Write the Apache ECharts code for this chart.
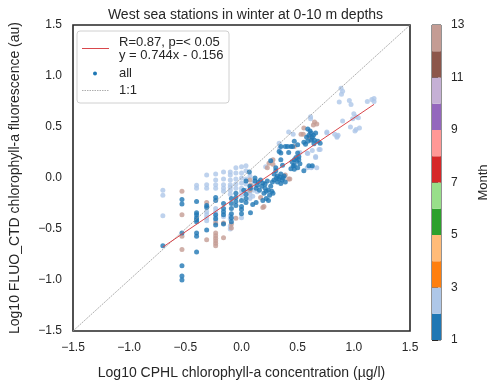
<!DOCTYPE html>
<html><head><meta charset="utf-8">
<script src="https://cdn.jsdelivr.net/npm/echarts/dist/echarts.min.js"></script>
<style>html,body{margin:0;padding:0;background:#fff}#c{width:491px;height:385px}</style>
</head><body><div id="c"></div>
<script>
// ---- data ----
const janPoints = [
[-0.70,-0.665],
[-0.53,-0.21],[-0.53,-0.255],[-0.53,-0.54],[-0.53,-0.86],[-0.53,-0.96],[-0.53,-1.0],
[-0.40,-0.23],[-0.40,-0.34],[-0.40,-0.36],[-0.40,-0.39],[-0.40,-0.41],[-0.40,-0.43],[-0.40,-0.54],[-0.40,-0.57],[-0.40,-0.725],
[-0.31,-0.27],[-0.31,-0.29],[-0.31,-0.51],
[-0.23,-0.19],[-0.23,-0.22],[-0.23,-0.36],[-0.23,-0.40],[-0.23,-0.46],
[-0.16,-0.25],[-0.16,-0.30],[-0.16,-0.33],[-0.16,-0.36],[-0.16,-0.45],
[-0.09,-0.20],[-0.09,-0.25],[-0.09,-0.30],[-0.09,-0.35],[-0.09,-0.39],[-0.09,-0.43],
[-0.05,-0.15],[-0.05,-0.19],[-0.05,-0.23],[-0.05,-0.27],
[0.0,-0.22],[0.0,-0.28],[0.0,-0.31],[0.0,-0.35],[0.02,-0.12],
[0.04,-0.03],[0.04,-0.16],[0.04,-0.20],[0.04,-0.24],
[0.075,-0.08],[0.08,-0.10],[0.10,-0.26],[0.08,-0.34],[0.07,0.06],[0.13,-0.24],
[0.12,-0.03],[0.14,-0.07],[0.13,-0.10],[0.15,-0.04],[0.12,0.0],[0.16,-0.12],
[0.17,-0.02],[0.19,-0.05],[0.18,-0.08],[0.21,-0.10],[0.22,-0.13],[0.20,-0.15],[0.24,-0.12],[0.25,-0.17],[0.27,-0.13],[0.28,-0.15],[0.22,-0.20],[0.19,-0.22],[0.24,-0.22],[0.21,-0.06],[0.23,-0.03],[0.26,-0.08],
[0.275,-0.04],[0.29,-0.02],[0.32,-0.04],[0.35,-0.055],[0.36,-0.02],[0.33,-0.01],[0.32,0.02],[0.38,0.02],[0.35,0.04],[0.305,0.07],[0.29,0.04],[0.31,0.0],[0.34,0.01],[0.37,0.0],[0.39,-0.04],
[0.305,0.10],[0.35,0.18],[0.365,0.125],[0.26,0.17],
[0.44,0.09],[0.47,0.085],[0.47,0.125],[0.50,0.10],[0.49,0.165],[0.51,0.18],[0.485,0.20],[0.50,0.245],[0.46,0.12],[0.52,0.14],[0.45,0.16],[0.47,0.18],[0.51,0.21],[0.42,0.25],
[0.335,0.26],[0.35,0.245],[0.35,0.31],[0.39,0.31],[0.41,0.31],[0.44,0.31],[0.47,0.36],[0.50,0.325],[0.455,0.31],[0.555,0.35],
[0.60,0.12],[0.63,0.12],[0.555,0.07],
[0.59,0.48],[0.61,0.46],[0.62,0.44],[0.64,0.42],[0.60,0.42],[0.63,0.40],[0.66,0.44],[0.58,0.40],[0.65,0.37],[0.62,0.37],[0.645,0.335],[0.68,0.36],[0.70,0.34],[0.59,0.36],[0.57,0.33]
];
const febPoints = [
[-0.70,-0.12],[-0.70,-0.17],[-0.70,-0.37],
[-0.40,-0.07],[-0.40,-0.10],
[-0.31,0.03],[-0.31,-0.065],[-0.31,-0.10],[-0.31,-0.33],[-0.31,-0.36],[-0.31,-0.39],[-0.31,-0.42],
[-0.23,0.04],[-0.23,-0.02],[-0.23,-0.065],[-0.23,-0.10],[-0.23,-0.30],[-0.23,-0.33],[-0.23,-0.38],[-0.23,-0.42],
[-0.16,0.06],[-0.16,-0.01],[-0.16,-0.065],[-0.16,-0.10],[-0.16,-0.13],[-0.16,-0.38],
[-0.10,0.06],[-0.10,0.03],[-0.10,-0.02],[-0.10,-0.065],[-0.10,-0.09],[-0.10,-0.12],[-0.10,-0.16],[-0.10,-0.37],[-0.10,-0.40],[-0.10,-0.47],[-0.10,-0.50],
[-0.05,0.10],[-0.05,0.05],[-0.05,-0.01],[-0.05,-0.06],[-0.05,-0.10],
[0.0,0.11],[0.0,0.05],[0.0,0.0],[0.0,-0.05],[0.0,-0.10],[0.0,-0.13],[0.0,-0.17],[0.0,-0.39],
[0.04,0.12],[0.04,0.07],[0.04,-0.01],[0.04,-0.06],[0.04,-0.12],
[0.075,0.02],[0.075,-0.13],[0.075,-0.16],[0.075,-0.20],
[0.11,-0.055],[0.11,-0.12],[0.14,-0.135],[0.10,-0.18],
[0.215,0.11],
[0.335,0.34],[0.34,0.29],[0.42,0.45],[0.46,0.43],
[0.52,0.25],[0.51,0.20],[0.62,0.10],[0.67,0.10],[0.585,0.10],[0.63,0.11],
[0.585,0.245],[0.63,0.27],[0.69,0.28],[0.66,0.20],[0.59,0.24],[0.66,0.21],[0.70,0.28],
[0.615,0.60],[0.615,0.58],
[0.76,0.45],[0.76,0.44],[0.83,0.43],[0.85,0.41],[0.85,0.40],[0.86,0.42],
[0.886,0.88],[0.90,0.85],[0.89,0.82],[0.87,0.745],[0.96,0.76],[0.975,0.72],
[1.12,0.75],[1.16,0.77],[1.18,0.75],[1.18,0.78],
[1.0,0.63],[1.02,0.60],[1.04,0.59],[0.99,0.58],[0.90,0.56],
[0.97,0.50],[1.02,0.475],[1.05,0.49],[1.01,0.46]
];
const decPoints = [
[-0.53,-0.13],[-0.53,-0.36],[-0.53,-0.57],[-0.53,-0.70],
[-0.31,-0.24],[-0.31,-0.605],
[-0.23,-0.44],[-0.23,-0.54],[-0.23,-0.565],[-0.23,-0.59],[-0.23,-0.615],[-0.23,-0.64],[-0.23,-0.665],
[-0.16,-0.44],[-0.16,-0.585],
[-0.09,-0.45],[-0.09,-0.49],
[-0.05,-0.395],
[0.075,-0.02],[0.08,-0.07],[0.075,-0.12],
[0.17,-0.19],[0.19,-0.29],[0.20,-0.28],
[0.23,0.10],[0.245,0.145],[0.28,0.18],[0.28,0.135],
[0.39,0.03],[0.42,-0.01],[0.43,-0.01],
[0.47,0.31],
[0.53,0.43],[0.55,0.43],[0.555,0.49],[0.64,0.52],[0.65,0.55],[0.67,0.53],[0.60,0.405],[0.62,0.38]
];
const months = [1,2,3,4,5,6,7,8,9,10,11,12];
const monthColors = ['#1f77b4','#aec7e8','#ff7f0e','#ffbb78','#2ca02c','#98df8a','#d62728','#ff9896','#9467bd','#c5b0d5','#8c564b','#c49c94'];
const axisTicks = [-1.5,-1.0,-0.5,0.0,0.5,1.0,1.5];
const colorbarTicks = [1,3,5,7,9,11,13];
const fitSlope = 0.744, fitIntercept = -0.156;
const fitXRange = [-0.70, 1.18];
const oneToOne = [-1.5, 1.5];
const titleText = 'West sea stations in winter at 0-10 m depths';
const xName = 'Log10 CPHL chlorophyll-a concentration (µg/l)';
const yName = 'Log10 FLUO_CTD chlorophyll-a fluorescence (au)';
const legendFit = 'R=0.87, p=< 0.05\ny = 0.744x - 0.156';

// ---- chart ----
const FONT = 'Liberation Sans, Arial, sans-serif';
const TXT = '#262626';
const fmt = v => (Math.abs(v) < 1e-9 ? '0.0' : v.toFixed(1).replace('-', '\u2212'));
const chart = echarts.init(document.getElementById('c'), null, {renderer: 'canvas'});
const fitLine = fitXRange.map(x => [x, fitSlope * x + fitIntercept]);
const diag = oneToOne.map(v => [v, v]);

chart.setOption({
  animation: false,
  backgroundColor: '#fff',
  textStyle: {fontFamily: FONT, color: TXT},
  title: {text: titleText, left: 240.5, top: 3, textAlign: 'center',
    textStyle: {fontSize: 14, fontWeight: 'normal', color: TXT, fontFamily: FONT}},
  grid: [
    {left: 71, top: 25, width: 339, height: 315, show: true, borderColor: '#262626', borderWidth: 1.6, backgroundColor: 'transparent', containLabel: false},
    {left: 432, top: 25, width: 15, height: 315, show: true, borderColor: '#262626', borderWidth: 1, backgroundColor: 'transparent', containLabel: false}
  ],
  xAxis: [
    {type: 'value', gridIndex: 0, min: -1.5, max: 1.5, interval: 0.5,
     axisLine: {show: false}, axisTick: {show: false}, splitLine: {show: false},
     axisLabel: {formatter: fmt, fontSize: 12, color: TXT, margin: 11, fontFamily: FONT},
     name: xName, nameLocation: 'middle', nameGap: 35,
     nameTextStyle: {fontSize: 14, color: TXT, fontFamily: FONT}},
    {type: 'value', gridIndex: 1, min: 0, max: 1, show: false}
  ],
  yAxis: [
    {type: 'value', gridIndex: 0, min: -1.5, max: 1.5, interval: 0.5,
     axisLine: {show: false}, axisTick: {show: false}, splitLine: {show: false},
     axisLabel: {formatter: fmt, fontSize: 12, color: TXT, margin: 11, fontFamily: FONT},
     name: yName, nameLocation: 'middle', nameGap: 51, nameRotate: 90,
     nameTextStyle: {fontSize: 14, color: TXT, fontFamily: FONT}},
    {type: 'value', gridIndex: 1, min: 1, max: 13, interval: 2, position: 'right',
     axisLine: {show: false}, axisTick: {show: true, length: 6, lineStyle: {color: '#262626', width: 1}},
     splitLine: {show: false},
     axisLabel: {fontSize: 12, color: TXT, margin: 10, fontFamily: FONT},
     name: 'Month', nameLocation: 'middle', nameGap: 36, nameRotate: 90,
     nameTextStyle: {fontSize: 13, color: TXT, fontFamily: FONT}}
  ],
  series: [
    {type: 'scatter', xAxisIndex: 0, yAxisIndex: 0, data: febPoints, symbolSize: 5, itemStyle: {color: monthColors[1]}, z: 2, silent: true},
    {type: 'scatter', xAxisIndex: 0, yAxisIndex: 0, data: decPoints, symbolSize: 5, itemStyle: {color: monthColors[11]}, z: 2, silent: true},
    {type: 'scatter', xAxisIndex: 0, yAxisIndex: 0, data: janPoints, symbolSize: 5, itemStyle: {color: monthColors[0]}, z: 2, silent: true},
    {type: 'line', xAxisIndex: 0, yAxisIndex: 0, data: diag, showSymbol: false, z: 3, silent: true,
     lineStyle: {color: '#999999', width: 0.8, type: [2, 1]}},
    {type: 'line', xAxisIndex: 0, yAxisIndex: 0, data: fitLine, showSymbol: false, z: 4, silent: true,
     lineStyle: {color: '#d9474c', width: 1}},
    {type: 'custom', xAxisIndex: 1, yAxisIndex: 1, silent: true,
     data: months.map(m => [0, m, m + 1]),
     encode: {x: 0, y: 1},
     renderItem: function (params, api) {
       const a = api.coord([0, api.value(1)]);
       const b = api.coord([1, api.value(2)]);
       return {type: 'rect', shape: {x: a[0], y: b[1], width: b[0] - a[0], height: a[1] - b[1]},
               style: {fill: monthColors[params.dataIndex]}};
     }}
  ],
  graphic: [
    {type: 'rect', shape: {x: 77, y: 31, width: 152, height: 72, r: 3}, z: 10,
     style: {fill: 'rgba(255,255,255,0.85)', stroke: '#d0d0d0', lineWidth: 1}},
    {type: 'line', shape: {x1: 82, y1: 48.5, x2: 109, y2: 48.5}, z: 11, style: {stroke: '#d9474c', lineWidth: 1}},
    {type: 'text', x: 119, y: 48.5, z: 11, style: {text: legendFit, font: '13px ' + FONT, fill: TXT, lineHeight: 13, verticalAlign: 'middle', align: 'left'}},
    {type: 'circle', shape: {cx: 95, cy: 73.5, r: 2}, z: 11, style: {fill: monthColors[0]}},
    {type: 'text', x: 119, y: 73.5, z: 11, style: {text: 'all', font: '13px ' + FONT, fill: TXT, verticalAlign: 'middle', align: 'left'}},
    {type: 'line', shape: {x1: 82, y1: 90.5, x2: 109, y2: 90.5}, z: 11, style: {stroke: '#999999', lineWidth: 0.8, lineDash: [1.5, 1]}},
    {type: 'text', x: 119, y: 90.5, z: 11, style: {text: '1:1', font: '13px ' + FONT, fill: TXT, verticalAlign: 'middle', align: 'left'}}
  ]
});
</script>
</body></html>
